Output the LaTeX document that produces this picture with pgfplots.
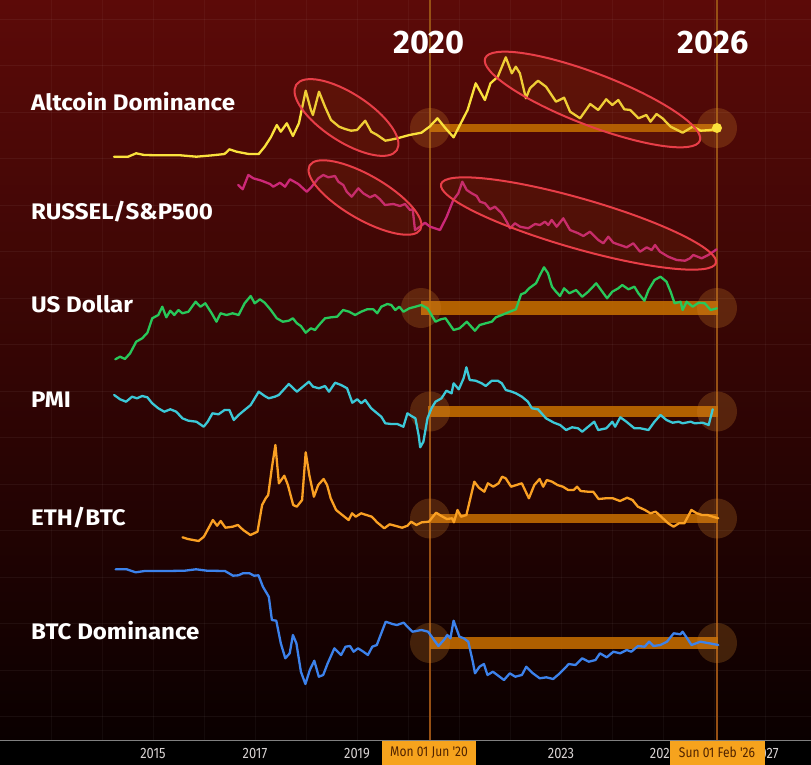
\documentclass[border=0pt]{standalone}
\usepackage{fontspec}
\setmainfont{Fira Sans}
\newfontfamily\condfont[FakeStretch=0.86]{Fira Sans}
\newfontfamily\labfont[FakeStretch=1.07]{Fira Sans}
\usepackage{pgfplots}
\usepackage{pgfplotstable}
\pgfplotsset{compat=1.18}

\definecolor{bgtop}{RGB}{92,10,8}
\definecolor{bgmid}{RGB}{46,4,3}
\definecolor{bgbot}{RGB}{10,0,0}
\definecolor{altc}{RGB}{250,225,60}
\definecolor{rusc}{RGB}{205,40,120}
\definecolor{usdc}{RGB}{40,200,90}
\definecolor{pmic}{RGB}{60,200,215}
\definecolor{ethc}{RGB}{250,160,35}
\definecolor{btcc}{RGB}{60,130,235}
\definecolor{bandc}{RGB}{192,106,0}
\definecolor{glowc}{RGB}{210,130,40}
\definecolor{vlinec}{RGB}{150,80,20}
\definecolor{ellc}{RGB}{232,62,72}
\definecolor{ellfill}{RGB}{170,80,20}
\definecolor{tickgray}{RGB}{215,210,210}
\definecolor{boxorange}{RGB}{246,163,29}
\definecolor{boxtext}{RGB}{80,35,0}

% values: x = horizontal position (px), y = vertical position (px from top)
\pgfplotstableread{
px py
114.1 156.7
128.1 156.7
136.2 153.3
144.2 155.0
160.3 155.3
180.4 155.3
196.4 156.7
212.5 155.3
224.6 154.0
229.4 149.3
236.6 151.7
248.7 154.0
258.7 154.0
264.7 146.7
270.8 137.3
276.8 125.0
280.8 131.7
286.8 123.3
292.9 136.0
298.9 123.3
305.7 90.7
310.9 110.0
312.9 115.0
319.0 91.7
325.0 106.7
331.0 120.0
339.1 126.7
345.1 129.0
351.1 130.7
357.1 130.0
365.2 120.7
371.2 131.7
377.2 135.0
385.3 140.7
389.3 140.0
397.3 138.3
409.4 135.0
421.4 132.7
429.5 126.7
437.5 118.3
445.5 128.3
453.6 137.3
461.6 121.7
467.6 110.0
475.7 83.3
484.9 100.0
490.5 83.3
497.8 76.7
505.8 57.3
511.8 73.3
515.8 66.7
519.9 73.3
525.9 98.3
529.9 88.3
538.0 80.7
546.0 86.7
556.0 101.7
564.1 97.7
570.1 111.7
580.1 118.3
590.2 104.0
598.2 110.0
606.2 99.3
612.3 105.0
618.3 100.0
624.3 109.3
630.3 110.0
638.4 118.3
646.4 115.0
650.5 121.7
656.5 114.0
662.5 118.3
670.6 126.7
682.6 132.7
692.7 126.7
700.7 130.7
710.7 130.0
716.8 128.3
}\altdata

\pgfplotstableread{
px py
238.3 185.0
242.7 189.3
248.3 175.0
253.3 178.3
261.7 180.7
270.0 184.0
273.3 186.7
280.0 182.7
285.0 186.7
290.0 179.3
298.3 184.0
306.7 191.7
311.7 186.7
318.3 178.3
323.3 175.0
328.3 177.3
335.0 176.0
338.3 181.7
343.3 185.0
346.7 191.7
351.7 196.7
358.3 188.3
363.3 193.3
370.0 197.3
375.0 195.0
380.0 199.3
385.0 205.0
393.3 204.0
400.0 206.0
405.0 204.0
410.0 210.0
412.7 209.3
415.0 230.0
420.0 226.7
425.0 222.7
430.0 226.7
435.0 228.3
440.0 230.0
446.7 216.7
453.3 200.0
458.3 193.3
462.3 181.7
466.7 190.0
471.7 193.3
476.7 196.0
480.0 201.7
485.0 203.3
490.0 209.3
495.0 206.7
501.7 213.3
506.7 221.7
510.0 228.3
515.0 223.3
520.0 226.7
528.3 228.3
535.0 224.0
540.0 225.0
545.0 221.7
548.3 225.0
551.7 220.0
556.7 226.7
563.3 218.3
570.0 230.0
578.3 233.3
583.3 236.0
590.0 231.7
598.3 240.0
603.3 243.3
608.3 236.7
613.3 242.7
620.0 245.0
626.7 247.3
633.3 243.3
640.0 251.7
646.7 247.3
651.7 250.0
655.0 245.0
660.0 251.7
668.3 256.7
676.7 260.0
685.0 260.7
690.0 258.3
693.3 255.0
701.7 258.3
708.3 255.0
716.7 249.3
}\rusdata

\pgfplotstableread{
px py
115.3 359.3
120.1 356.7
124.9 359.0
130.1 353.3
136.2 341.7
142.2 338.3
147.4 332.7
152.2 318.3
158.3 315.0
162.3 306.7
166.3 317.3
170.3 310.7
174.3 315.0
178.4 310.0
182.4 313.3
188.4 311.7
195.6 301.7
200.5 306.7
205.3 303.3
211.7 313.3
216.5 321.7
220.5 313.3
226.6 315.0
232.6 313.3
238.6 315.0
244.6 303.3
250.7 296.0
254.7 303.3
259.9 299.3
264.7 302.7
270.8 310.0
276.8 318.3
282.8 321.7
288.8 320.7
292.9 318.3
296.9 323.3
300.9 326.0
305.7 332.7
310.9 328.3
315.0 330.0
319.0 325.0
325.0 318.3
331.0 317.3
337.1 316.7
343.1 310.0
349.1 311.7
355.1 315.0
361.2 311.7
367.2 309.3
373.2 309.3
377.2 313.3
381.3 306.7
387.3 304.0
391.3 305.0
395.3 310.0
399.3 306.7
403.4 311.7
409.4 308.3
415.4 306.7
421.4 305.0
427.5 308.3
431.5 315.0
435.5 321.7
440.7 319.3
445.5 318.3
453.6 330.0
459.6 328.3
466.8 321.7
474.9 330.7
479.7 325.0
485.7 323.3
491.8 321.7
495.8 317.3
501.8 315.0
509.8 311.7
515.9 309.3
521.1 294.3
525.1 292.7
529.1 288.3
536.0 283.3
540.0 275.0
544.0 267.3
548.0 273.3
552.0 286.7
556.0 291.7
560.0 296.0
564.1 288.3
569.3 293.3
576.1 290.0
582.2 296.7
588.2 291.7
596.2 283.3
602.3 291.7
607.1 298.3
612.3 291.7
618.3 288.3
622.3 285.0
628.4 289.3
634.4 286.7
638.4 293.3
644.4 300.7
648.5 290.0
654.5 280.0
660.5 276.7
666.5 281.7
670.6 291.7
674.6 303.3
680.6 301.7
682.6 310.0
686.6 301.7
692.7 306.7
698.7 302.7
704.7 303.3
710.7 310.0
716.8 308.3
}\usddata

\pgfplotstableread{
px py
114.1 395.0
120.1 399.3
126.1 401.7
132.1 396.7
137.0 398.3
142.2 396.0
147.4 397.3
152.2 403.3
158.3 408.3
164.3 411.7
170.3 409.3
176.3 411.7
182.4 418.3
188.4 420.7
196.4 421.7
203.7 426.7
207.7 421.7
212.5 413.3
218.5 414.3
224.6 410.0
229.4 410.0
233.8 420.0
238.6 415.0
244.6 410.0
250.7 405.0
258.7 391.7
264.7 396.0
268.8 398.3
274.8 396.7
278.8 395.0
288.8 384.0
296.9 391.7
302.9 386.7
308.9 381.7
313.0 386.7
319.0 388.3
325.0 386.0
329.0 391.7
335.1 382.7
341.1 385.0
347.1 388.3
352.3 402.7
357.2 399.3
361.2 403.3
365.2 400.0
371.2 408.3
377.2 413.3
381.3 416.7
385.3 423.3
391.3 424.0
397.3 424.0
403.4 426.7
407.4 413.3
411.4 416.0
415.4 418.3
418.6 435.0
420.2 447.3
423.4 441.7
427.5 418.3
431.5 408.3
435.5 401.7
441.5 398.3
446.4 390.7
451.6 393.3
453.6 383.3
458.8 389.3
463.6 378.3
466.4 367.3
469.7 380.0
475.7 380.7
481.7 383.3
485.7 386.0
491.8 380.7
497.8 380.7
501.8 383.3
505.8 390.0
511.8 391.7
515.9 393.3
521.9 396.7
527.9 401.7
531.9 408.3
538.0 409.3
546.0 418.3
554.0 422.7
560.1 425.0
566.1 430.0
572.1 427.3
578.1 428.3
582.2 431.7
588.2 426.7
594.2 421.7
598.2 430.0
606.3 428.3
612.3 421.7
615.1 426.7
620.3 417.3
626.4 421.7
634.4 428.3
640.4 428.3
648.5 430.0
654.5 421.7
660.5 415.0
666.5 420.0
672.6 422.7
678.6 421.7
682.6 423.3
690.6 421.7
694.7 423.3
702.7 422.7
708.7 425.0
712.7 409.3
}\pmidata

\pgfplotstableread{
px py
182.5 537.3
187.9 539.0
198.6 541.0
203.9 536.7
209.3 526.7
212.9 520.0
217.1 525.7
220.7 521.0
225.4 527.7
232.5 526.7
237.9 525.0
243.2 530.0
250.4 535.0
257.5 531.7
262.1 505.0
265.7 498.3
268.2 495.0
271.8 468.3
275.4 445.0
278.9 483.3
284.3 475.7
287.9 485.0
293.2 505.0
296.8 506.7
302.1 500.0
305.7 452.3
309.3 475.0
313.9 496.7
318.2 485.0
323.6 479.0
327.1 485.0
330.7 498.3
336.1 510.0
341.4 514.3
348.6 520.0
352.1 513.3
355.7 516.7
361.1 513.3
366.4 515.0
371.8 516.7
377.1 522.3
384.3 528.3
389.6 524.3
395.0 525.7
402.1 527.7
407.5 525.7
411.1 521.7
416.4 525.0
421.8 522.3
428.9 521.7
436.1 512.7
441.4 516.0
446.8 519.0
452.1 518.3
453.9 522.3
457.5 510.0
461.1 516.7
466.4 515.0
474.3 481.7
478.9 487.7
484.3 491.7
487.9 483.3
493.2 486.7
498.6 483.3
502.1 476.7
505.7 478.3
511.1 486.7
516.4 485.0
521.8 483.3
528.9 498.3
534.3 485.0
539.6 479.0
543.2 486.7
546.8 480.0
552.1 481.7
557.5 485.0
562.9 486.7
568.2 490.0
573.6 490.0
577.1 486.7
580.7 491.0
587.9 491.7
593.2 491.7
598.6 499.0
605.7 498.3
612.9 498.3
620.0 501.0
627.1 497.7
632.5 500.0
637.9 506.7
645.0 510.0
650.4 513.3
655.7 511.7
662.9 518.3
668.2 523.3
673.6 526.7
678.9 523.3
684.3 523.3
691.4 510.0
696.8 513.3
702.1 515.0
707.5 515.0
712.9 516.7
718.2 518.3
}\ethdata

\pgfplotstableread{
px py
115.6 569.3
126.8 569.3
135.7 572.3
144.6 571.0
167.0 571.0
184.8 570.7
196.0 569.3
207.1 570.7
225.0 571.0
233.0 575.7
238.4 575.3
242.9 573.3
249.6 573.3
254.0 575.7
258.5 575.3
262.9 586.7
268.8 596.7
271.9 620.0
276.3 620.7
280.8 643.3
285.3 658.3
289.7 653.3
292.9 635.0
296.4 643.3
300.9 671.7
305.4 684.0
309.8 670.0
314.3 660.7
318.8 676.7
323.2 675.0
327.7 663.3
334.4 648.3
341.1 655.0
345.5 646.7
350.0 646.0
353.6 651.7
358.0 648.3
363.4 651.7
367.9 655.0
372.3 646.7
376.8 645.0
385.7 621.7
392.4 624.0
396.9 625.0
403.6 622.7
412.5 631.7
421.4 630.0
428.1 631.7
438.4 646.0
443.8 640.0
447.3 635.0
450.4 638.3
453.6 620.7
459.4 636.7
463.8 638.3
468.3 641.7
472.8 661.7
475.0 673.3
479.5 666.7
483.9 664.0
487.5 675.0
492.9 671.7
497.3 675.0
504.0 680.0
509.8 673.3
515.2 676.7
521.9 675.0
526.3 666.7
532.1 672.7
539.7 678.3
546.4 677.3
553.1 679.0
559.8 673.3
568.8 664.0
575.4 665.0
582.1 658.3
588.8 661.7
595.5 660.0
600.0 653.3
606.7 657.3
613.4 651.7
620.1 653.3
626.8 650.0
631.3 651.7
638.0 646.0
644.6 646.7
649.1 641.7
653.6 646.0
660.3 645.0
667.0 641.7
673.7 633.3
680.4 634.3
682.6 631.7
687.1 638.3
691.5 645.0
700.4 641.7
709.4 643.3
718.3 645.0
}\btcdata

\begin{document}
\begin{tikzpicture}
\useasboundingbox (0,0) rectangle (811pt,-765pt);
\fill[black] (0,-735pt) rectangle (811pt,-765pt);
\shade[top color=bgtop, middle color=bgmid, bottom color=bgbot] (0,0) rectangle (811pt,-740pt);
\begin{axis}[
  at={(0,0)}, anchor=north west,
  scale only axis, width=811pt, height=740pt,
  xmin=0, xmax=811, ymin=0, ymax=740,
  axis line style={draw=none},
  ytick=\empty,
  xtick={153,255,357,561,663,766},
  xticklabels={2015,2017,2019,2023,2025,2027},
  major tick length=0pt,
  xticklabel style={font=\condfont\fontsize{15}{15}\selectfont, text=tickgray, anchor=base, yshift=-18pt},
  clip=false,
  every axis plot/.append style={line width=2.3pt, line join=round, line cap=round},
]
% faint grid
\pgfplotsinvokeforeach{0,...,15}{
  \draw[white, opacity=0.05, line width=0.8pt] (axis cs:0,{721-46.5*#1}) -- (axis cs:811,{721-46.5*#1});
}
\pgfplotsinvokeforeach{-2,...,12}{
  \draw[white, opacity=0.04, line width=0.8pt] (axis cs:{153+51*#1},0) -- (axis cs:{153+51*#1},740);
}
% vertical markers
\draw[vlinec, line width=1.8pt] (axis cs:430,0) -- (axis cs:430,740);
\draw[vlinec, line width=1.8pt] (axis cs:717,0) -- (axis cs:717,740);
% bands
\draw[bandc, opacity=0.9, line width=8pt] (axis cs:430,612) -- (axis cs:717,612);
\draw[bandc, opacity=0.9, line width=14pt] (axis cs:421,432) -- (axis cs:718,432);
\draw[bandc, opacity=0.9, line width=11pt] (axis cs:428,328.5) -- (axis cs:718,328.5);
\draw[bandc, opacity=0.9, line width=9pt] (axis cs:430,221.5) -- (axis cs:718,221.5);
\draw[bandc, opacity=0.9, line width=12pt] (axis cs:430,97) -- (axis cs:718,97);
% glows
\fill[glowc, opacity=0.25] (axis cs:430,612) circle[radius=20pt];
\fill[glowc, opacity=0.25] (axis cs:717,612) circle[radius=20pt];
\fill[glowc, opacity=0.25] (axis cs:421,432) circle[radius=20pt];
\fill[glowc, opacity=0.25] (axis cs:717,432) circle[radius=20pt];
\fill[glowc, opacity=0.25] (axis cs:430,328.5) circle[radius=20pt];
\fill[glowc, opacity=0.25] (axis cs:717,328.5) circle[radius=20pt];
\fill[glowc, opacity=0.25] (axis cs:430,221.5) circle[radius=20pt];
\fill[glowc, opacity=0.25] (axis cs:717,221.5) circle[radius=20pt];
\fill[glowc, opacity=0.25] (axis cs:430,97) circle[radius=20pt];
\fill[glowc, opacity=0.25] (axis cs:717,97) circle[radius=20pt];
% series
\addplot[altc] table[x=px, y expr=740-\thisrow{py}] {\altdata};
\addplot[rusc] table[x=px, y expr=740-\thisrow{py}] {\rusdata};
\addplot[usdc] table[x=px, y expr=740-\thisrow{py}] {\usddata};
\addplot[pmic] table[x=px, y expr=740-\thisrow{py}] {\pmidata};
\addplot[ethc] table[x=px, y expr=740-\thisrow{py}] {\ethdata};
\addplot[btcc] table[x=px, y expr=740-\thisrow{py}] {\btcdata};
\fill[altc] (axis cs:717,612) circle[radius=5pt];
% ellipses
\draw[ellc, line width=2pt, fill=ellfill, fill opacity=0.13, rotate around={-33:(axis cs:346.5,622.5)}] (axis cs:346.5,622.5) ellipse[x radius=60pt, y radius=24pt];
\draw[ellc, line width=2pt, fill=ellfill, fill opacity=0.13, rotate around={-21:(axis cs:592.5,640.5)}] (axis cs:592.5,640.5) ellipse[x radius=115pt, y radius=26pt];
\draw[ellc, line width=2pt, fill=ellfill, fill opacity=0.13, rotate around={-30:(axis cs:365,542.5)}] (axis cs:365,542.5) ellipse[x radius=64pt, y radius=22pt];
\draw[ellc, line width=2pt, fill=ellfill, fill opacity=0.13, rotate around={-16:(axis cs:578.5,516.5)}] (axis cs:578.5,516.5) ellipse[x radius=143pt, y radius=25pt];
% labels
\node[anchor=base west, text=white, font=\labfont\bfseries\fontsize{22.5}{22.5}\selectfont, inner sep=0] at (axis cs:31,630) {Altcoin Dominance};
\node[anchor=base west, text=white, font=\labfont\bfseries\fontsize{22.5}{22.5}\selectfont, inner sep=0] at (axis cs:31,521) {RUSSEL/S\&P500};
\node[anchor=base west, text=white, font=\labfont\bfseries\fontsize{22.5}{22.5}\selectfont, inner sep=0] at (axis cs:31,428) {US Dollar};
\node[anchor=base west, text=white, font=\labfont\bfseries\fontsize{22.5}{22.5}\selectfont, inner sep=0] at (axis cs:31,333) {PMI};
\node[anchor=base west, text=white, font=\labfont\bfseries\fontsize{22.5}{22.5}\selectfont, inner sep=0] at (axis cs:31,215) {ETH/BTC};
\node[anchor=base west, text=white, font=\labfont\bfseries\fontsize{22.5}{22.5}\selectfont, inner sep=0] at (axis cs:31,101) {BTC Dominance};
\node[anchor=base, text=white, font=\bfseries\fontsize{32.5}{32.5}\selectfont, inner sep=0] at (axis cs:429,687) {2020};
\node[anchor=base, text=white, font=\bfseries\fontsize{32.5}{32.5}\selectfont, inner sep=0] at (axis cs:713,686) {2026};
% x axis line and date boxes
\draw[gray, line width=0.8pt] (axis cs:0,0) -- (axis cs:811,0);
\node[fill=boxorange, text=boxtext, minimum width=94pt, minimum height=24pt, inner sep=0, font=\condfont\fontsize{14}{14}\selectfont] at (axis cs:429,-12.5) {Mon 01 Jun '20};
\node[fill=boxorange, text=boxtext, minimum width=95pt, minimum height=24pt, inner sep=0, font=\condfont\fontsize{14}{14}\selectfont] at (axis cs:717,-12.5) {Sun 01 Feb '26};
\end{axis}
\end{tikzpicture}
\end{document}
